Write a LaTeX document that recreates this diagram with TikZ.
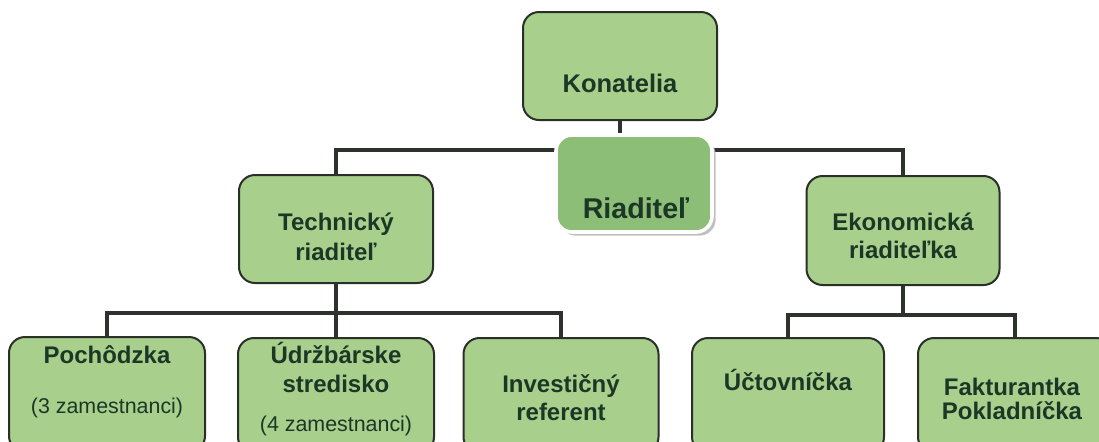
\documentclass[tikz,border=0pt]{standalone}
\usepackage{fontspec}
\setmainfont{Liberation Sans}
\usetikzlibrary{shadows}
\definecolor{boxfill}{RGB}{168,207,140}
\definecolor{riadfill}{RGB}{140,190,120}
\definecolor{edge}{RGB}{40,48,40}
\definecolor{ink}{RGB}{28,55,38}
\definecolor{wire}{RGB}{45,50,45}
\begin{document}
\begin{tikzpicture}[x=0.5pt,y=-0.5pt,
  box/.style={draw=edge, line width=1pt, fill=boxfill, rounded corners=8pt, inner sep=0pt},
  riadbox/.style={draw=white, line width=1.8pt, fill=riadfill, rounded corners=8pt, inner sep=0pt,
    drop shadow={shadow xshift=1.8pt, shadow yshift=-1.8pt, fill=gray!55, opacity=0.9}},
  lbl/.style={text=ink, anchor=mid, font=\bfseries\fontsize{12}{14}\selectfont},
  sm/.style={text=ink, anchor=mid, font=\fontsize{10.7}{13}\selectfont},
  wirel/.style={draw=wire, line width=2.2pt}]
\useasboundingbox (0,0) rectangle (1099,441);
\clip (0,0) rectangle (1099,441);
% coordinates of the buses
\coordinate (topbus) at (620,150);
\coordinate (lbus) at (336,313);
\coordinate (rbus) at (903,315);
% boxes
\node[box, minimum width=97pt, minimum height=54pt] (kon) at (620,66) {};
\node[box, minimum width=97pt, minimum height=54pt] (tech) at (336,229) {};
\node[box, minimum width=96.5pt, minimum height=54.5pt] (eko) at (903,230.5) {};
\node[box, minimum width=98pt, minimum height=57.5pt] (poch) at (107,394.5) {};
\node[box, minimum width=98pt, minimum height=57.5pt] (udr) at (336,395.5) {};
\node[box, minimum width=97.5pt, minimum height=57.5pt] (inv) at (561,395.5) {};
\node[box, minimum width=96pt, minimum height=57.5pt] (uct) at (788,395.5) {};
\node[box, minimum width=97pt, minimum height=57.5pt] (fak) at (1015,395.5) {};
% connectors
\draw[wirel] (kon.south) -- (topbus);
\draw[wirel] (tech.north) |- (topbus) -| (eko.north);
\draw[wirel] (tech.south) -- (lbus);
\draw[wirel] (poch.north) |- (lbus) -| (inv.north);
\draw[wirel] (udr.north) -- (lbus);
\draw[wirel] (eko.south) -- (rbus);
\draw[wirel] (uct.north) |- (rbus) -| (fak.north);
% director box on top of the bus
\node[riadbox, minimum width=78pt, minimum height=48.5pt] (riad) at (634,183.5) {};
% labels
\node[lbl, font=\bfseries\fontsize{12.75}{15}\selectfont] (tkon) at (620,87) {Konatelia};
\node[lbl, font=\bfseries\fontsize{14.3}{17}\selectfont] (triad) at (636,213) {Riaditeľ};
\node[lbl] (ttech1) at (336,225) {Technický};
\node[lbl] (ttech2) at (336,255) {riaditeľ};
\node[lbl] (teko1) at (903,225) {Ekonomická};
\node[lbl] (teko2) at (903,253) {riaditeľka};
\node[lbl] (tpoch) at (107,358) {Pochôdzka};
\node[sm] (tpoch2) at (107,408) {(3 zamestnanci)};
\node[lbl] (tudr1) at (336,358) {Údržbárske};
\node[lbl] (tudr2) at (336,387) {stredisko};
\node[sm] (tudr3) at (336,426) {(4 zamestnanci)};
\node[lbl] (tinv1) at (561,387) {Investičný};
\node[lbl] (tinv2) at (561,415) {referent};
\node[lbl] (tuct) at (788,385) {Účtovníčka};
\node[lbl] (tfak1) at (1012,390) {Fakturantka};
\node[lbl] (tfak2) at (1012,414) {Pokladníčka};
\end{tikzpicture}
\end{document}
